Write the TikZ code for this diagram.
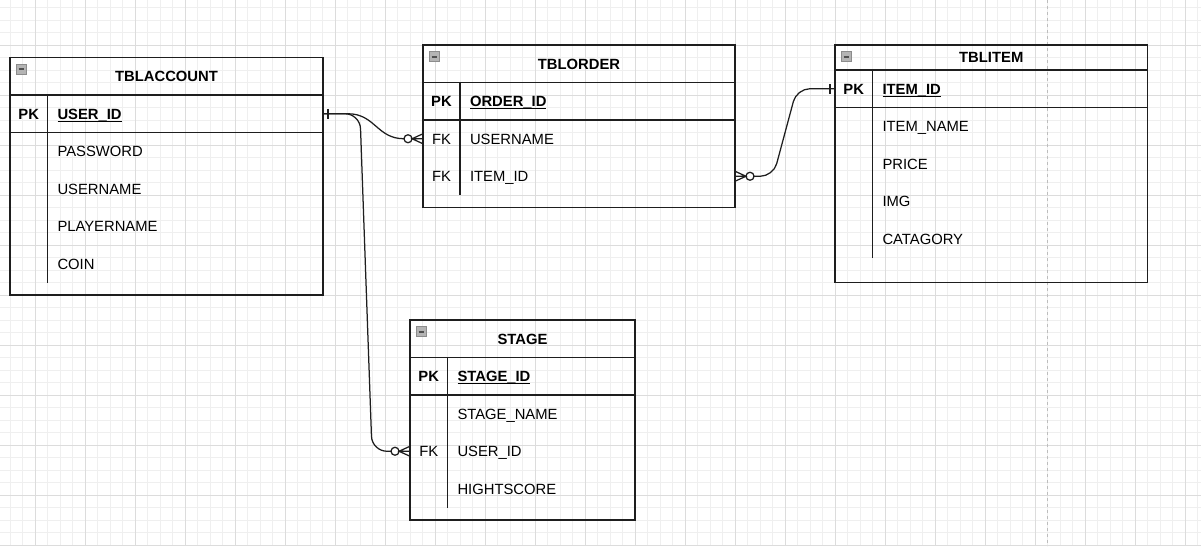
\documentclass[tikz,border=0pt]{standalone}
\usepackage{fontspec}
\setmainfont{Liberation Sans}
\usetikzlibrary{calc}
\definecolor{gridminor}{HTML}{EFEFEF}
\definecolor{gridmajor}{HTML}{DCDCDC}
\definecolor{pagebreak}{HTML}{BDBDBD}
\definecolor{ink}{HTML}{1E1E1E}
\definecolor{iconfill}{HTML}{B4B4B4}
\definecolor{iconedge}{HTML}{8C8C8C}
\definecolor{iconbar}{HTML}{505050}
\newcommand\erFont{\fontsize{14.8pt}{17pt}\selectfont}
\begin{document}
\begin{tikzpicture}[x=1pt,y=-1pt,
  tablebox/.style={draw=ink, line width=1.3pt, inner sep=0pt, outer sep=0pt},
  tline/.style={draw=ink, line width=1.3pt},
  conn/.style={draw=ink, line width=1.25pt},
  lbl/.style={inner sep=0pt, outer sep=0pt, text height=10.6pt, text depth=0pt, font=\erFont, text=black},
  title/.style={lbl, font=\bfseries\erFont},
  pklbl/.style={lbl, font=\bfseries\erFont},
  fklbl/.style={lbl},
  field/.style={lbl, anchor=west},
  pkfield/.style={field, font=\bfseries\erFont},
  uline/.style={draw=black, line width=1.1pt},
  iconbox/.style={fill=iconfill, draw=iconedge, line width=0.8pt},
  iconminus/.style={draw=iconbar, line width=2pt},
]
\useasboundingbox (0,0) rectangle (1201,546);
% background grid
\foreach \k in {0,...,95} \draw[gridminor, line width=1pt] ({10+12.5*\k},0) -- ({10+12.5*\k},546);
\foreach \k in {0,...,43} \draw[gridminor, line width=1pt] (0,{7.5+12.5*\k}) -- (1201,{7.5+12.5*\k});
\foreach \k in {0,...,23} \draw[gridmajor, line width=1pt] ({35+50*\k},0) -- ({35+50*\k},546);
\foreach \k in {0,...,10} \draw[gridmajor, line width=1pt] (0,{45+50*\k}) -- (1201,{45+50*\k});
\draw[pagebreak, line width=1pt, dash pattern=on 3pt off 3pt] (1047.5,0) -- (1047.5,546);

% ---------------- TBLACCOUNT ----------------
\node[tablebox, minimum width=313pt, minimum height=237.5pt] (acc) at (166.5,176.25) {};
\draw[tline] (10,95) -- (323,95);
\draw[tline] (10,132.5) -- (323,132.5);
\draw[tline] (47.5,95) -- (47.5,282.5);
\filldraw[iconbox] ([shift={(6,6.5)}]acc.north west) rectangle ++(10.5,10);
\draw[iconminus] ([shift={(8.5,11.5)}]acc.north west) -- ++(5.5,0);
\node[title] (acct) at (166.5,76.25) {TBLACCOUNT};
\node[pklbl] (accpk) at (28.75,113.75) {PK};
\node[pkfield] (accuid) at (57.5,113.75) {USER\_ID};
\draw[uline] ([yshift=-2pt]accuid.base west) -- ([yshift=-2pt]accuid.base east);
\node[field] (accpw) at (57.5,151.25) {PASSWORD};
\node[field] (accun) at (57.5,188.75) {USERNAME};
\node[field] (accpn) at (57.5,226.25) {PLAYERNAME};
\node[field] (acccn) at (57.5,263.75) {COIN};

% ---------------- TBLORDER ----------------
\node[tablebox, minimum width=312pt, minimum height=162.5pt] (ord) at (579,126.25) {};
\draw[tline] (423,82.5) -- (735,82.5);
\draw[tline] (423,120) -- (735,120);
\draw[tline] (460,82.5) -- (460,195);
\filldraw[iconbox] ([shift={(6,6.5)}]ord.north west) rectangle ++(10.5,10);
\draw[iconminus] ([shift={(8.5,11.5)}]ord.north west) -- ++(5.5,0);
\node[title] (ordt) at (579,63.75) {TBLORDER};
\node[pklbl] (ordpk) at (441.5,101.25) {PK};
\node[pkfield] (ordid) at (470,101.25) {ORDER\_ID};
\draw[uline] ([yshift=-2pt]ordid.base west) -- ([yshift=-2pt]ordid.base east);
\node[fklbl] (ordfk1) at (441.5,138.75) {FK};
\node[field] (ordusr) at (470,138.75) {USERNAME};
\node[fklbl] (ordfk2) at (441.5,176.25) {FK};
\node[field] (orditm) at (470,176.25) {ITEM\_ID};

% ---------------- TBLITEM ----------------
\node[tablebox, minimum width=312.5pt, minimum height=237.5pt] (itm) at (991.25,163.75) {};
\draw[tline] (835,70) -- (1147.5,70);
\draw[tline] (835,107.5) -- (1147.5,107.5);
\draw[tline] (872.5,70) -- (872.5,257.5);
\filldraw[iconbox] ([shift={(6,6.5)}]itm.north west) rectangle ++(10.5,10);
\draw[iconminus] ([shift={(8.5,11.5)}]itm.north west) -- ++(5.5,0);
\node[title] (itmt) at (991.25,57.5) {TBLITEM};
\node[pklbl] (itmpk) at (853.75,88.75) {PK};
\node[pkfield] (itmid) at (882.5,88.75) {ITEM\_ID};
\draw[uline] ([yshift=-2pt]itmid.base west) -- ([yshift=-2pt]itmid.base east);
\node[field] (itmnm) at (882.5,126.25) {ITEM\_NAME};
\node[field] (itmpr) at (882.5,163.75) {PRICE};
\node[field] (itmim) at (882.5,201.25) {IMG};
\node[field] (itmct) at (882.5,238.75) {CATAGORY};

% ---------------- STAGE ----------------
\node[tablebox, minimum width=225pt, minimum height=200pt] (stg) at (522.5,420) {};
\draw[tline] (410,357.5) -- (635,357.5);
\draw[tline] (410,395) -- (635,395);
\draw[tline] (447.5,357.5) -- (447.5,507.5);
\filldraw[iconbox] ([shift={(6,6.5)}]stg.north west) rectangle ++(10.5,10);
\draw[iconminus] ([shift={(8.5,11.5)}]stg.north west) -- ++(5.5,0);
\node[title] (stgt) at (522.5,338.75) {STAGE};
\node[pklbl] (stgpk) at (428.75,376.25) {PK};
\node[pkfield] (stgid) at (457.5,376.25) {STAGE\_ID};
\draw[uline] ([yshift=-2pt]stgid.base west) -- ([yshift=-2pt]stgid.base east);
\node[field] (stgnm) at (457.5,413.75) {STAGE\_NAME};
\node[fklbl] (stgfk) at (428.75,451.25) {FK};
\node[field] (stguid) at (457.5,451.25) {USER\_ID};
\node[field] (stghs) at (457.5,488.75) {HIGHTSCORE};

% ---------------- connectors ----------------
\coordinate (e1s) at (acc.east |- accuid);
\coordinate (e1t) at (ord.west |- ordusr);
\coordinate (e2t) at (stg.west |- stguid);
\coordinate (e3s) at (ord.east |- orditm);
\coordinate (e3t) at (itm.west |- itmid);

% TBLACCOUNT.USER_ID -> TBLORDER.USERNAME
\draw[conn] (e1s) -- ++(25,0) .. controls ++(27,0) and ($(e1t)+(-46,0)$) .. ($(e1t)+(-19,0)$);
\draw[conn] ($(e1s)+(5,-5)$) -- ($(e1s)+(5,5)$);
\draw[conn, fill=white] ($(e1t)+(-15,0)$) circle[radius=4pt];
\draw[conn] ($(e1t)+(0,-5)$) -- ($(e1t)+(-11,0)$) -- ($(e1t)+(0,5)$) ($(e1t)+(-11,0)$) -- (e1t);

% TBLACCOUNT.USER_ID -> STAGE.USER_ID
\draw[conn, rounded corners=15pt] (e1s) -- ($(e1s)+(37,0)$) -- ($(e2t)+(-38,0)$) -- ($(e2t)+(-19,0)$);
\draw[conn, fill=white] ($(e2t)+(-15,0)$) circle[radius=4pt];
\draw[conn] ($(e2t)+(0,-5)$) -- ($(e2t)+(-11,0)$) -- ($(e2t)+(0,5)$) ($(e2t)+(-11,0)$) -- (e2t);

% TBLORDER.ITEM_ID -> TBLITEM.ITEM_ID
\draw[conn, rounded corners=13pt] ($(e3s)+(19,0)$) -- ($(e3s)+(38.3,0)$) -- ($(e3t)+(-38.2,0)$) -- (e3t);
\draw[conn, fill=white] ($(e3s)+(15,0)$) circle[radius=4pt];
\draw[conn] ($(e3s)+(0,-5)$) -- ($(e3s)+(11,0)$) -- ($(e3s)+(0,5)$) ($(e3s)+(11,0)$) -- (e3s);
\draw[conn] ($(e3t)+(-5,-5)$) -- ($(e3t)+(-5,5)$);
\end{tikzpicture}
\end{document}
